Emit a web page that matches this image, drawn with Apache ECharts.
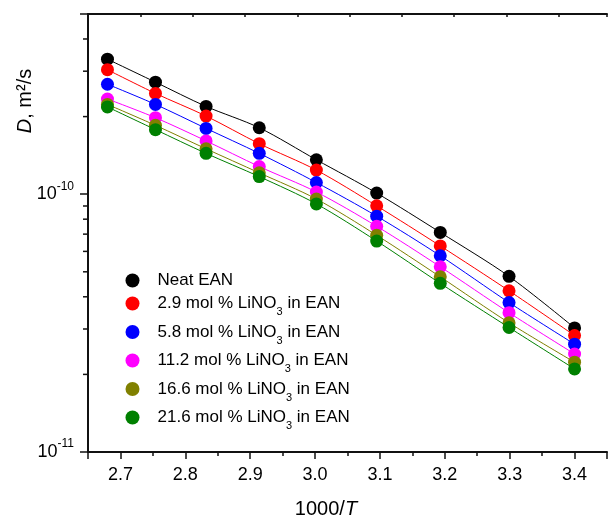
<!DOCTYPE html>
<html>
<head>
<meta charset="utf-8">
<script src="https://cdn.jsdelivr.net/npm/echarts@6/dist/echarts.min.js"></script>
<style>
html,body{margin:0;padding:0;background:#fff;}
#chart{width:610px;height:517px;}
</style>
</head>
<body>
<div id="chart"></div>
<script>
// 1000/T values of the measurement temperatures
const xValues = [2.680, 2.754, 2.832, 2.914, 3.002, 3.095, 3.193, 3.299, 3.400];

// Self-diffusion coefficients D (m^2/s)
const neatEAN = [3.34e-10, 2.72e-10, 2.19e-10, 1.81e-10, 1.36e-10, 1.01e-10, 7.11e-11, 4.80e-11, 3.03e-11];
const li29    = [3.04e-10, 2.46e-10, 2.01e-10, 1.57e-10, 1.24e-10, 9.01e-11, 6.30e-11, 4.22e-11, 2.83e-11];
const li58    = [2.67e-10, 2.23e-10, 1.80e-10, 1.44e-10, 1.11e-10, 8.22e-11, 5.77e-11, 3.80e-11, 2.62e-11];
const li112   = [2.34e-10, 1.98e-10, 1.61e-10, 1.28e-10, 1.02e-10, 7.51e-11, 5.23e-11, 3.47e-11, 2.40e-11];
const li166   = [2.23e-10, 1.85e-10, 1.50e-10, 1.21e-10, 9.58e-11, 6.93e-11, 4.78e-11, 3.17e-11, 2.23e-11];
const li216   = [2.18e-10, 1.78e-10, 1.44e-10, 1.17e-10, 9.17e-11, 6.58e-11, 4.51e-11, 3.04e-11, 2.10e-11];

const seriesNames = [
  'Neat EAN',
  '2.9 mol % LiNO3 in EAN',
  '5.8 mol % LiNO3 in EAN',
  '11.2 mol % LiNO3 in EAN',
  '16.6 mol % LiNO3 in EAN',
  '21.6 mol % LiNO3 in EAN'
];
const seriesValues = [neatEAN, li29, li58, li112, li166, li216];
const seriesColors = ['#000000', '#ff0000', '#0000ff', '#ff00ff', '#808000', '#008000'];

// axis ranges and tick values
const xMin = 2.65, xMax = 3.45;
const xMinorInterval = 0.05;
const yMin = 1e-11, yMax = 5e-10;
const yMinorTicks = [2e-11, 3e-11, 4e-11, 5e-11, 6e-11, 7e-11, 8e-11, 9e-11, 2e-10, 3e-10, 4e-10];
const topTickMax = 9.92;

const FONT = 'Liberation Sans, Arial, sans-serif';
const AX = '#111111';

const chart = echarts.init(document.getElementById('chart'), null, {renderer: 'canvas'});

const dataSeries = seriesNames.map((name, i) => ({
  name: name,
  type: 'line',
  xAxisIndex: 0,
  yAxisIndex: 0,
  data: xValues.map((x, j) => [x, seriesValues[i][j]]),
  symbol: 'circle',
  symbolSize: 13,
  smooth: 0.3,
  lineStyle: {color: seriesColors[i], width: 1},
  itemStyle: {color: seriesColors[i]},
  emphasis: {disabled: true},
  z: 3 + i
}));

const minorTickSeries = {
  type: 'custom',
  xAxisIndex: 0,
  yAxisIndex: 0,
  silent: true,
  clip: false,
  data: yMinorTicks.map(v => [xMin, v]),
  encode: {x: 0, y: 1},
  renderItem: function (params, api) {
    const p = api.coord([api.value(0), api.value(1)]);
    return {
      type: 'line',
      shape: {x1: p[0] - 5, y1: p[1], x2: p[0], y2: p[1]},
      style: {stroke: AX, lineWidth: 1.5}
    };
  },
  z: 10
};

const option = {
  animation: false,
  backgroundColor: '#ffffff',
  grid: {left: 88, right: 0, top: 14, bottom: 65, containLabel: false},
  legend: {
    orient: 'vertical',
    left: 125.5,
    top: 272,
    padding: 0,
    itemGap: 6,
    itemWidth: 40,
    itemHeight: 14,
    icon: 'circle',
    selectedMode: false,
    data: seriesNames,
    formatter: function (name) {
      if (name.indexOf('LiNO3') < 0) return '{a|' + name + '}';
      const parts = name.split('LiNO3');
      return '{b|' + parts[0] + 'LiNO}{s|3}{b|' + parts[1] + '}';
    },
    textStyle: {
      color: '#000',
      fontFamily: FONT,
      fontSize: 17,
      rich: {
        a: {fontSize: 17, lineHeight: 15, color: '#000', fontFamily: FONT},
        b: {fontSize: 17, lineHeight: 28, color: '#000', fontFamily: FONT},
        s: {fontSize: 11, lineHeight: 11, verticalAlign: 'bottom', color: '#000', fontFamily: FONT}
      }
    }
  },
  xAxis: [
    {
      type: 'value',
      position: 'bottom',
      min: xMin,
      max: xMax,
      splitNumber: 8,
      axisLine: {show: true, lineStyle: {color: AX, width: 2}},
      axisTick: {show: true, inside: false, length: 7, lineStyle: {color: AX, width: 1.5}},
      axisLabel: {
        show: true,
        margin: 14,
        color: '#000',
        fontFamily: FONT,
        fontSize: 18,
        formatter: function (v) {
          const r = Math.round(v * 10) / 10;
          if (Math.abs(r - v) > 1e-6) return '';
          return r.toFixed(1);
        }
      },
      splitLine: {show: false}
    },
    {
      type: 'value',
      position: 'top',
      min: 0,
      max: topTickMax,
      interval: 1,
      axisLine: {show: true, lineStyle: {color: AX, width: 2}},
      axisTick: {show: true, inside: true, length: 3, lineStyle: {color: AX, width: 1.5}},
      axisLabel: {show: false},
      splitLine: {show: false}
    },
    {
      type: 'value',
      position: 'bottom',
      min: xMin,
      max: xMax,
      interval: xMinorInterval,
      axisLine: {show: false},
      axisTick: {show: true, inside: false, length: 4, lineStyle: {color: AX, width: 1.5}},
      axisLabel: {show: false},
      splitLine: {show: false}
    }
  ],
  yAxis: [
    {
      type: 'log',
      logBase: 10,
      min: yMin,
      max: yMax,
      axisLine: {show: true, lineStyle: {color: AX, width: 2}},
      axisTick: {show: true, inside: false, length: 8, lineStyle: {color: AX, width: 1.5}},
      axisLabel: {
        show: true,
        margin: 14,
        formatter: function (v) {
          const e = Math.log10(v);
          if (Math.abs(e - Math.round(e)) > 1e-6) return '';
          return '{b|10}{p|' + Math.round(e) + '}';
        },
        rich: {
          b: {fontSize: 18, lineHeight: 28, color: '#000', fontFamily: FONT},
          p: {fontSize: 12, lineHeight: 12, verticalAlign: 'top', color: '#000', fontFamily: FONT}
        }
      },
      splitLine: {show: false},
      minorTick: {show: false}
    }
  ],
  graphic: [
    {
      type: 'text',
      x: 326,
      y: 509,
      silent: true,
      style: {
        text: '{n|1000/}{i|T}',
        align: 'center',
        verticalAlign: 'middle',
        rich: {
          n: {fontSize: 20, fontFamily: FONT, fill: '#000', color: '#000'},
          i: {fontSize: 20, fontFamily: FONT, fontStyle: 'italic', fill: '#000', color: '#000'}
        }
      }
    },
    {
      type: 'text',
      x: 25,
      y: 101,
      rotation: Math.PI / 2,
      silent: true,
      style: {
        text: '{i|D}{n|, m²/s}',
        align: 'center',
        verticalAlign: 'middle',
        rich: {
          n: {fontSize: 20, fontFamily: FONT, fill: '#000', color: '#000'},
          i: {fontSize: 20, fontFamily: FONT, fontStyle: 'italic', fill: '#000', color: '#000'}
        }
      }
    }
  ],
  series: dataSeries.concat([minorTickSeries])
};

chart.setOption(option);
</script>
</body>
</html>
